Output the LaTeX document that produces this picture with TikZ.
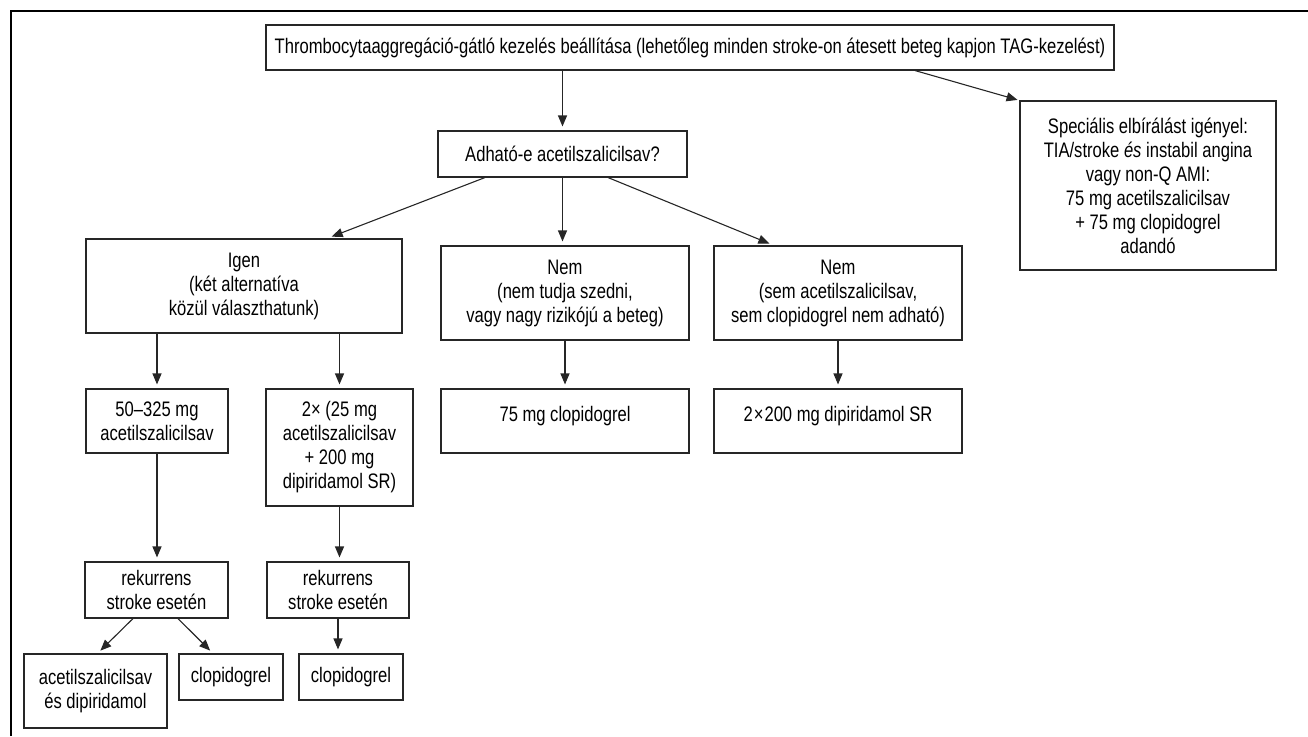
\documentclass[tikz,border=0pt]{standalone}
\usepackage{fontspec}
\setmainfont{Liberation Sans}[FakeStretch=0.79]
\usetikzlibrary{arrows.meta,calc}
\tikzset{
  box/.style={draw=black!85, line width=1.1pt, align=center, inner sep=0pt,
    font=\fontsize{21}{24}\selectfont},
  arr/.style={draw=black!85, line width=1.1pt, -{Triangle[length=11pt,width=9pt]}, shorten >=4pt},
  topalign/.style={text height=15pt, text depth=15pt}
}
\begin{document}
\begin{tikzpicture}[x=1pt,y=-1pt]
\useasboundingbox (0,0) rectangle (1308,736);
\draw[line width=2pt] (11,736) -- (11,11) -- (1308,11);

\node[box, minimum width=848, minimum height=45] (top) at (690,47.5)
  {Thrombocytaaggregáció-gátló kezelés beállítása (lehetőleg minden stroke-on átesett beteg kapjon TAG-kezelést)};
\node[box, minimum width=256, minimum height=169] (spec) at (1148,185.5)
  {Speciális elbírálást igényel:\\TIA/stroke \textit{és} instabil angina\\vagy non-Q AMI:\\75 mg acetilszalicilsav\\+ 75 mg clopidogrel\\adandó};
\node[box, minimum width=249, minimum height=46] (adh) at (562.5,154)
  {Adható-e acetilszalicilsav?};
\node[box, minimum width=316, minimum height=94] (igen) at (244,286)
  {Igen\\(két alternatíva\\közül választhatunk)};
\node[box, minimum width=248, minimum height=94] (nem1) at (565,293)
  {Nem\\(nem tudja szedni,\\vagy nagy rizikójú a beteg)};
\node[box, minimum width=248, minimum height=94] (nem2) at (838,293)
  {Nem\\(sem acetilszalicilsav,\\sem clopidogrel nem adható)};
\node[box, minimum width=142, minimum height=64] (a1) at (157,421)
  {50–325 mg\\acetilszalicilsav};
\node[box, minimum width=147, minimum height=117] (a2) at (339.5,447.5)
  {2× (25 mg\\acetilszalicilsav\\+ 200 mg\\dipiridamol SR)};
\node[box, topalign, minimum width=248, minimum height=64] (n1b) at (565,421)
  {75 mg clopidogrel};
\node[box, topalign, minimum width=248, minimum height=64] (n2b) at (838,421)
  {2\kern1pt×\kern1pt200 mg dipiridamol SR};
\node[box, minimum width=143, minimum height=56] (r1) at (156.5,590)
  {rekurrens\\stroke esetén};
\node[box, minimum width=142, minimum height=56] (r2) at (338,590)
  {rekurrens\\stroke esetén};
\node[box, minimum width=143, minimum height=74] (b1) at (95.5,691)
  {acetilszalicilsav\\és dipiridamol};
\node[box, minimum width=104, minimum height=46] (b2) at (231,677)
  {clopidogrel};
\node[box, minimum width=104, minimum height=46] (b3) at (351,677)
  {clopidogrel};

\draw[arr] (top.south -| adh.north) -- (adh.north);
\draw[arr, shorten >=2pt] ([xshift=225]top.south) -- (spec.north west);
\draw[arr, shorten >=5pt] ([xshift=-77.5]adh.south) -- ([xshift=83]igen.north);
\draw[arr] (adh.south) -- (adh.south |- nem1.north);
\draw[arr, shorten >=5pt] ([xshift=45.5]adh.south) -- ([xshift=-64]nem2.north);
\draw[arr] (a1.north |- igen.south) -- (a1.north);
\draw[arr] (a2.north |- igen.south) -- (a2.north);
\draw[arr] (nem1.south) -- (n1b.north);
\draw[arr] (nem2.south) -- (n2b.north);
\draw[arr] (a1.south) -- (a1.south |- r1.north);
\draw[arr] (a2.south) -- (a2.south |- r2.north);
\draw[arr] ([xshift=-23.5]r1.south) -- ([xshift=2]b1.north);
\draw[arr] ([xshift=21.5]r1.south) -- ([xshift=-18]b2.north);
\draw[arr] (r2.south) -- (r2.south |- b3.north);
\end{tikzpicture}
\end{document}
